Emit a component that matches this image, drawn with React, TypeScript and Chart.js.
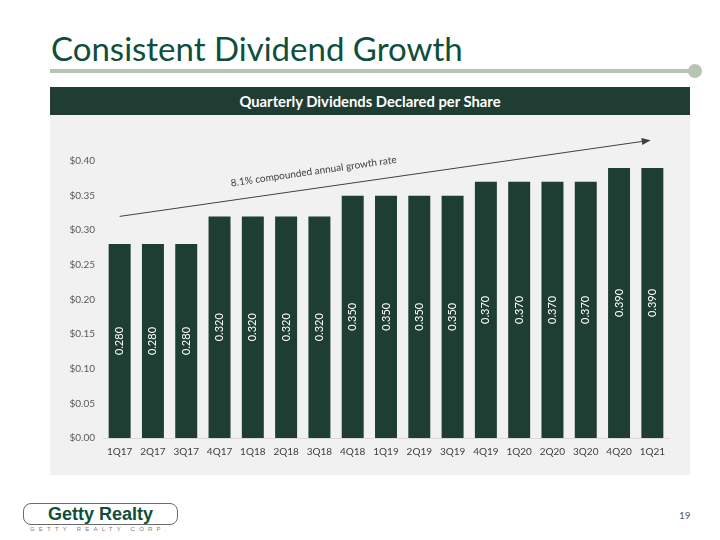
import React, { useEffect, useRef } from "react";
import { Chart, registerables } from "chart.js";

Chart.register(...registerables);

const categories = ["1Q17", "2Q17", "3Q17", "4Q17", "1Q18", "2Q18", "3Q18", "4Q18", "1Q19", "2Q19", "3Q19", "4Q19", "1Q20", "2Q20", "3Q20", "4Q20", "1Q21"];
const dividends = [0.28, 0.28, 0.28, 0.32, 0.32, 0.32, 0.32, 0.35, 0.35, 0.35, 0.35, 0.37, 0.37, 0.37, 0.37, 0.39, 0.39];
const yMin = 0;
const yMax = 0.4;
const yStep = 0.05;
const trendLabel = "8.1% compounded annual growth rate";
const trendFrom = [0, 0.32];
const trendTo = [15.95, 0.43];

const BAR = "#1e3e34";
const FONT = "Lato, 'Open Sans', sans-serif";

const overlayPlugin = {
  id: "overlay",
  afterDatasetsDraw(chart: any) {
    const ctx = chart.ctx as CanvasRenderingContext2D;
    const meta = chart.getDatasetMeta(0);
    meta.data.forEach((bar: any, i: number) => {
      const { x, y, base } = bar.getProps(["x", "y", "base"], true);
      ctx.save();
      ctx.translate(x, (y + base) / 2);
      ctx.rotate(-Math.PI / 2);
      ctx.fillStyle = "#ffffff";
      ctx.font = `11px ${FONT}`;
      ctx.textAlign = "center";
      ctx.textBaseline = "middle";
      ctx.fillText(dividends[i].toFixed(3), 0, 0);
      ctx.restore();
    });
    const xs = chart.scales.x;
    const ys = chart.scales.y;
    const x1 = xs.getPixelForValue(trendFrom[0]);
    const y1 = ys.getPixelForValue(trendFrom[1]);
    const x2 = xs.getPixelForValue(trendTo[0]);
    const y2 = ys.getPixelForValue(trendTo[1]);
    const ang = Math.atan2(y2 - y1, x2 - x1);
    ctx.save();
    ctx.strokeStyle = "#404040";
    ctx.fillStyle = "#404040";
    ctx.lineWidth = 1;
    const hl = 9;
    const ex = x2 - hl * Math.cos(ang);
    const ey = y2 - hl * Math.sin(ang);
    ctx.beginPath();
    ctx.moveTo(x1, y1);
    ctx.lineTo(ex, ey);
    ctx.stroke();
    ctx.beginPath();
    ctx.moveTo(x2, y2);
    ctx.lineTo(ex + 3.5 * Math.sin(ang), ey - 3.5 * Math.cos(ang));
    ctx.lineTo(ex - 3.5 * Math.sin(ang), ey + 3.5 * Math.cos(ang));
    ctx.closePath();
    ctx.fill();
    const t = 0.37;
    const cx = x1 + (x2 - x1) * t;
    const cy = y1 + (y2 - y1) * t;
    ctx.translate(cx, cy);
    ctx.rotate(ang);
    ctx.font = `10px ${FONT}`;
    ctx.textAlign = "center";
    ctx.textBaseline = "bottom";
    ctx.fillStyle = "#404040";
    ctx.fillText(trendLabel, 0, -12);
    ctx.restore();
  },
};

function DividendChart() {
  const ref = useRef<HTMLCanvasElement>(null);
  useEffect(() => {
    if (!ref.current) return;
    const chart = new Chart(ref.current, {
      type: "bar",
      data: {
        labels: categories,
        datasets: [
          {
            data: dividends,
            backgroundColor: BAR,
            borderWidth: 0,
            barPercentage: 0.66,
            categoryPercentage: 1,
          },
        ],
      },
      options: {
        animation: false,
        responsive: true,
        maintainAspectRatio: false,
        layout: { padding: { top: 46, right: 21, left: 0, bottom: 0 } },
        plugins: { legend: { display: false }, tooltip: { enabled: false }, title: { display: false } },
        scales: {
          x: {
            grid: { display: false, drawTicks: false },
            border: { display: true, color: "#d9d9d9" },
            ticks: { color: "#404040", font: { family: FONT, size: 10 }, padding: 8, maxRotation: 0, autoSkip: false },
            afterFit: (s: any) => {
              s.height = 37;
            },
          },
          y: {
            min: yMin,
            max: yMax,
            grid: { display: false, drawTicks: false },
            border: { display: false },
            ticks: {
              stepSize: yStep,
              color: "#595959",
              font: { family: FONT, size: 10 },
              padding: 8,
              callback: (v: any) => "$" + Number(v).toFixed(2),
            },
            afterFit: (s: any) => {
              s.width = 53;
            },
          },
        },
      },
      plugins: [overlayPlugin],
    });
    return () => chart.destroy();
  }, []);
  return (
    <div style={{ position: "relative", width: 640, height: 360 }}>
      <canvas ref={ref} />
    </div>
  );
}

export default function App() {
  return (
    <div style={{ position: "absolute", left: 0, top: 0, width: 720, height: 540, background: "#ffffff", overflow: "hidden", fontFamily: FONT }}>
      <div style={{ position: "absolute", left: 51, top: 27, fontSize: 33, color: "#0e4f3c", whiteSpace: "nowrap", lineHeight: "42px" }}>
        Consistent Dividend Growth
      </div>
      <div style={{ position: "absolute", left: 50, top: 69, width: 645, height: 4, background: "#b7c4b0" }} />
      <div style={{ position: "absolute", left: 688, top: 64, width: 14, height: 14, borderRadius: 7, background: "#b7c4b0" }} />
      <div style={{ position: "absolute", left: 50, top: 87, width: 640, height: 28, background: "#1f3d33", color: "#ffffff", fontWeight: 700, fontSize: 14.8, textAlign: "center", lineHeight: "28px", whiteSpace: "nowrap" }}>
        Quarterly Dividends Declared per Share
      </div>
      <div style={{ position: "absolute", left: 50, top: 115, width: 640, height: 360, background: "#f1f1f1" }}>
        <DividendChart />
      </div>
      <div style={{ position: "absolute", left: 23, top: 503, width: 153, height: 20, border: "1px solid #6b6b6b", borderRadius: 8, color: "#0e4f3c", fontFamily: "'Liberation Sans', Arial, sans-serif", fontWeight: 900, fontSize: 18, lineHeight: "20px", textAlign: "center" }}>
        Getty Realty
      </div>
      <div style={{ position: "absolute", left: 30, top: 526, fontSize: 6, letterSpacing: 4.2, color: "#7a7a7a", fontFamily: "'Liberation Sans', Arial, sans-serif", whiteSpace: "nowrap" }}>
        GETTY REALTY CORP.
      </div>
      <div style={{ position: "absolute", left: 679, top: 509, fontSize: 10, color: "#595959" }}>19</div>
    </div>
  );
}
